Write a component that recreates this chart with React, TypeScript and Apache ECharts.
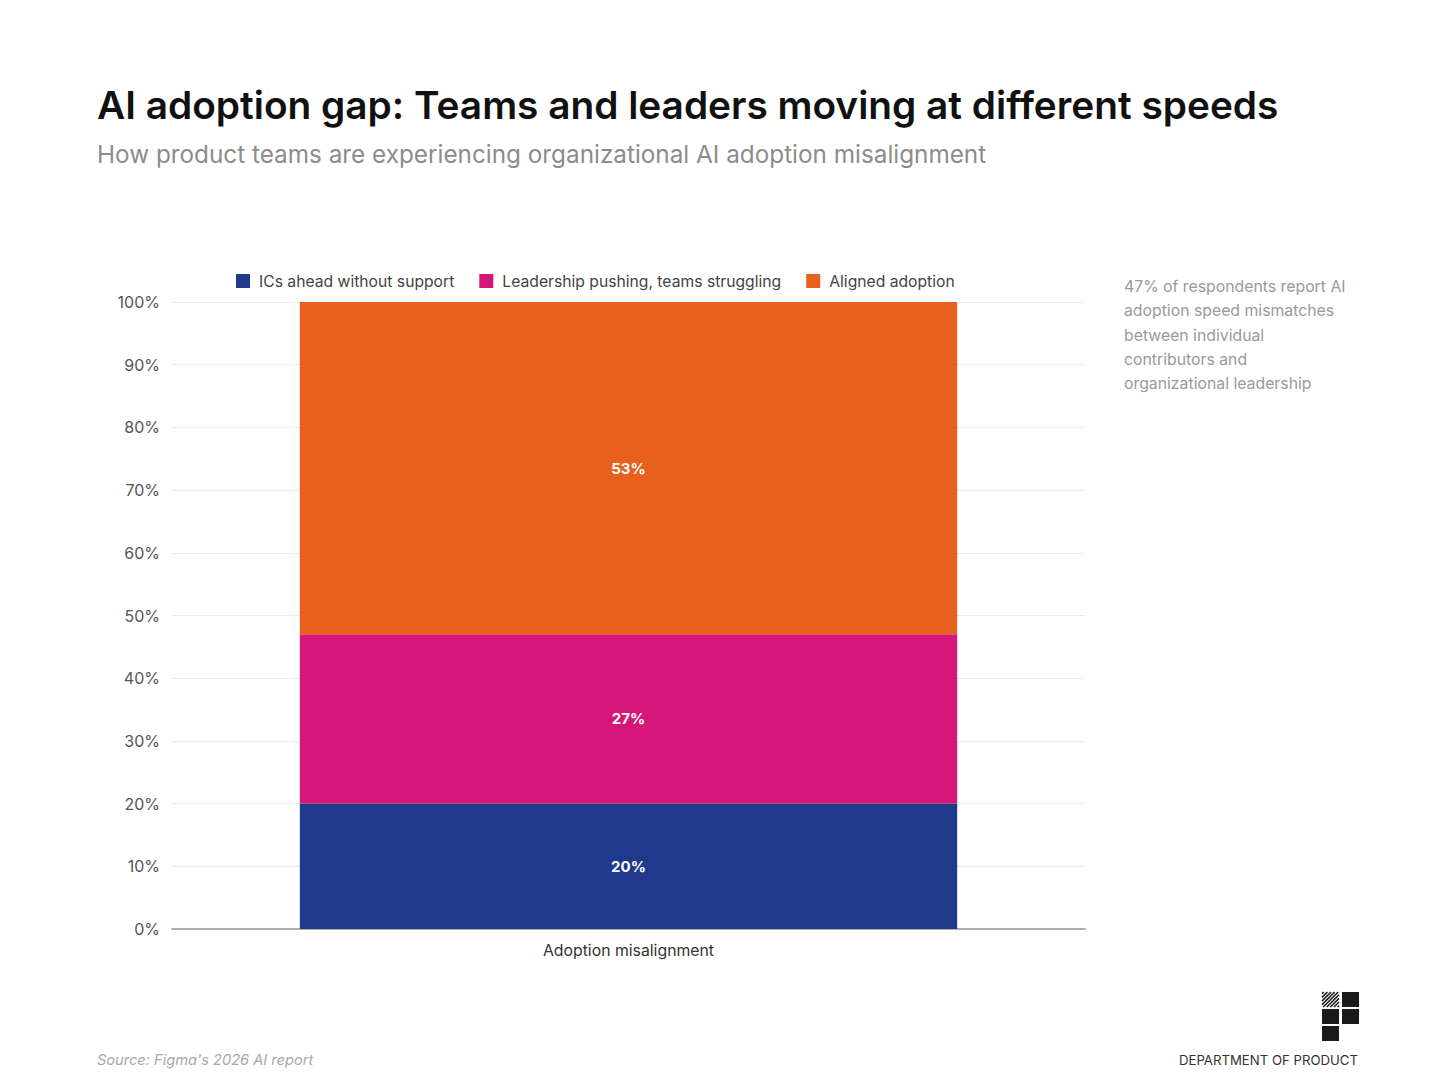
import React, { useEffect, useRef } from "react";
import * as echarts from "echarts";

const categories = ["Adoption misalignment"];
const seriesNames = ["ICs ahead without support", "Leadership pushing, teams struggling", "Aligned adoption"];
const icsAhead = [20];
const leadershipPushing = [27];
const alignedAdoption = [53];
const seriesColors = ["#1f3a8a", "#d5177a", "#e8601d"];
const yTicks = [0, 10, 20, 30, 40, 50, 60, 70, 80, 90, 100];

const FONT = "Inter, 'Noto Sans', sans-serif";

function hatchLines(x0: number, y0: number, w: number, h: number, step: number) {
  const lines: any[] = [];
  for (let c = step / 2; c < w + h; c += step) {
    const xa = Math.max(0, c - h);
    const xb = Math.min(w, c);
    if (xb <= xa) continue;
    lines.push({
      type: "line",
      shape: { x1: x0 + xa, y1: y0 + (c - xa), x2: x0 + xb, y2: y0 + (c - xb) },
      style: { stroke: "#1a1a1a", lineWidth: 1.6 },
      silent: true,
    });
  }
  return lines;
}

export default function App() {
  const ref = useRef<HTMLDivElement>(null);
  useEffect(() => {
    document.body.style.margin = "0";
    const chart = echarts.init(ref.current!, undefined, { renderer: "svg" });
    const dataSets = [icsAhead, leadershipPushing, alignedAdoption];
    const sq = 17;
    const sqh = 15;
    const gx = 3;
    const gy = 2;
    const lx = 1322;
    const ly = 992;
    chart.setOption({
      animation: false,
      backgroundColor: "#ffffff",
      textStyle: { fontFamily: FONT },
      title: [
        {
          text: "AI adoption gap: Teams and leaders moving at different speeds",
          left: 92,
          top: 80,
          textStyle: { fontFamily: FONT, fontSize: 38.8, fontWeight: 600, color: "#111111" },
        },
        {
          text: "How product teams are experiencing organizational AI adoption misalignment",
          left: 92,
          top: 137,
          textStyle: { fontFamily: FONT, fontSize: 24.3, fontWeight: 400, color: "#8c8c8c" },
        },
      ],
      legend: {
        left: 231,
        top: 268,
        itemWidth: 14,
        itemHeight: 14,
        itemGap: 25,
        icon: "rect",
        textStyle: { fontFamily: FONT, fontSize: 15.7, color: "#444444", padding: [0, 0, 0, 4] },
        data: seriesNames,
      },
      grid: { left: 172, right: 371, top: 302, bottom: 163, containLabel: false },
      xAxis: {
        type: "category",
        data: categories,
        axisLine: { lineStyle: { color: "#b0b0b0", width: 2 } },
        axisTick: { show: false },
        axisLabel: { fontFamily: FONT, fontSize: 15.8, color: "#333333", margin: 13 },
      },
      yAxis: {
        type: "value",
        min: 0,
        max: 100,
        interval: 10,
        axisLine: { show: false },
        axisTick: { show: false },
        splitLine: { lineStyle: { color: "#ebebeb", width: 1 } },
        axisLabel: {
          fontFamily: FONT,
          fontSize: 16,
          color: "#555555",
          margin: 12,
          formatter: (v: number) => (yTicks.includes(v) ? `${v}%` : ""),
        },
      },
      series: seriesNames.map((name, i) => ({
        name,
        type: "bar",
        stack: "total",
        barWidth: "72%",
        data: dataSets[i],
        itemStyle: { color: seriesColors[i] },
        label: {
          show: true,
          position: "inside",
          formatter: (p: any) => `${p.value}%`,
          fontFamily: FONT,
          fontSize: 15,
          fontWeight: 700,
          color: "#ffffff",
        },
      })),
      graphic: [
        {
          type: "text",
          left: 1124,
          top: 274,
          style: {
            text:
              "47% of respondents report AI\nadoption speed mismatches\nbetween individual\ncontributors and\norganizational leadership",
            fontFamily: FONT,
            fontSize: 15.8,
            lineHeight: 24.4,
            fill: "#9a9a9a",
          },
        },
        {
          type: "text",
          left: 97,
          top: 1052,
          style: {
            text: "Source: Figma's 2026 AI report",
            fontFamily: FONT,
            fontSize: 14.6,
            fontStyle: "italic",
            fill: "#a8a8a8",
          },
        },
        {
          type: "text",
          right: 98,
          top: 1053,
          style: {
            text: "DEPARTMENT OF PRODUCT",
            fontFamily: FONT,
            fontSize: 13.2,
            fill: "#333333",
          },
        },
        { type: "rect", shape: { x: lx + sq + gx, y: ly, width: sq, height: sqh }, style: { fill: "#1a1a1a" } },
        { type: "rect", shape: { x: lx, y: ly + sqh + gy, width: sq, height: sqh }, style: { fill: "#1a1a1a" } },
        { type: "rect", shape: { x: lx + sq + gx, y: ly + sqh + gy, width: sq, height: sqh }, style: { fill: "#1a1a1a" } },
        { type: "rect", shape: { x: lx, y: ly + 2 * (sqh + gy), width: sq, height: sqh }, style: { fill: "#1a1a1a" } },
        ...hatchLines(lx, ly, sq, sqh, 3.6),
      ],
    });
    return () => chart.dispose();
  }, []);
  return <div ref={ref} style={{ width: 1456, height: 1092 }} />;
}
